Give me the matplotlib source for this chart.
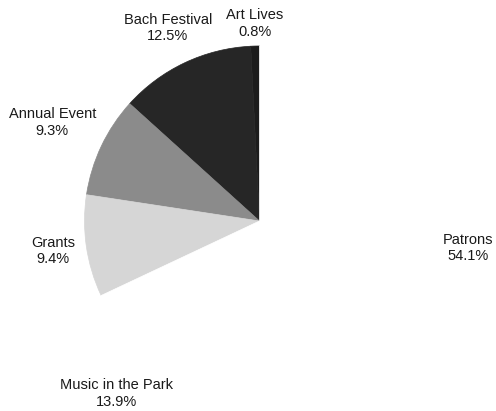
import matplotlib.pyplot as plt

# slices, counterclockwise from 12 o'clock
names = ['Art Lives', 'Bach Festival', 'Annual Event', 'Grants', 'Music in the Park', 'Patrons']
shares = [0.8, 12.5, 9.3, 9.4, 13.9, 54.1]
shades = ['#1c1c1c', '#262626', '#8b8b8b', '#d6d6d6', '#ffffff', '#ffffff']

# how far out each label sits (in pie radii)
label_dist = [1.13, 1.22, 1.31, 1.19, 1.28, 1.2]

plt.rcParams['font.family'] = ['Liberation Sans', 'DejaVu Sans']

fig = plt.figure(figsize=(4.96, 4.11), dpi=100)
ax = fig.add_axes([0, 0, 1, 1])

labels = [n + '\n' + str(v) + '%' for n, v in zip(names, shares)]
wedges, texts = ax.pie(shares, labels=labels, colors=shades, startangle=90,
                       counterclock=True, labeldistance=1.0,
                       wedgeprops=dict(linewidth=0.5))
for w, t, d in zip(wedges, texts, label_dist):
    w.set_edgecolor(w.get_facecolor())
    x, y = t.get_position()
    t.set_position((x * d, y * d))
    t.set_ha('center')
    t.set_va('center')
    t.set_fontsize(10.5)
    t.set_color('#1a1a1a')
    t.set_linespacing(1.25)

# centre of the pie sits at about (259, 221) px, radius about 175 px
ax.set_xlim(-259.5 / 175, (496 - 259.5) / 175)
ax.set_ylim(-(411 - 221) / 175, 221 / 175)
ax.set_aspect('equal')
ax.axis('off')

fig.savefig('out.png', dpi=100)
